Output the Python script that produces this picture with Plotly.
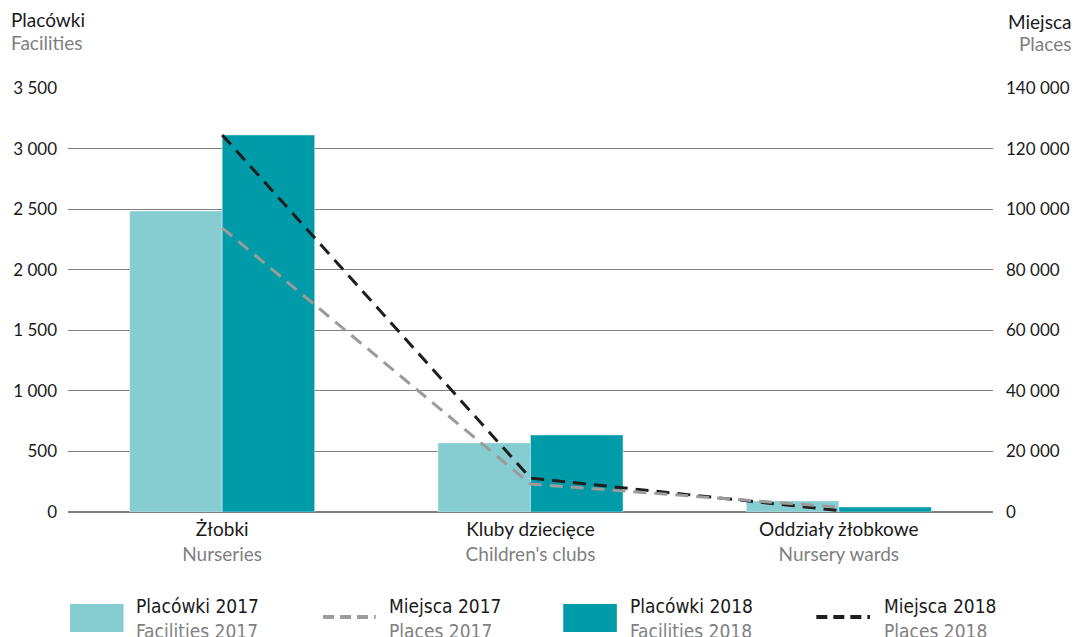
import plotly.graph_objects as go

categories = ["Żłobki<br><span style='color:#808080'>Nurseries</span>",
              "Kluby dziecięce<br><span style='color:#808080'>Children's clubs</span>",
              "Oddziały żłobkowe<br><span style='color:#808080'>Nursery wards</span>"]
facilities_2017 = [2485, 570, 91]
facilities_2018 = [3112, 636, 41]
places_2017 = [93800, 9250, 1600]
places_2018 = [124500, 11200, 500]
left_ticks = [0, 500, 1000, 1500, 2000, 2500, 3000, 3500]
right_ticks = [0, 20000, 40000, 60000, 80000, 100000, 120000, 140000]

C17 = "#86CDD2"
C18 = "#009BA8"
L17 = "#9B9B9B"
L18 = "#1E1E1E"
GRAY = "#7F7F7F"
FONT = "Lato"

W, H = 1082, 637
L, R, T, B = 68, 82, 88, 125

def px(x):
    return (x - L) / (W - L - R)

def py(y):
    return (H - B - y) / (H - T - B)

fig = go.Figure()
fig.add_trace(go.Bar(x=categories, y=facilities_2017, marker_color=C17, name="Placówki 2017", showlegend=False))
fig.add_trace(go.Bar(x=categories, y=facilities_2018, marker_color=C18, name="Placówki 2018", showlegend=False))
fig.add_trace(go.Scatter(x=categories, y=places_2018, yaxis="y2", mode="lines",
                         line=dict(color=L18, width=3, dash="13px,8px"), showlegend=False))
fig.add_trace(go.Scatter(x=categories, y=places_2017, yaxis="y2", mode="lines",
                         line=dict(color=L17, width=3, dash="13px,8px"), showlegend=False))

fig.update_layout(
    width=W, height=H,
    margin=dict(l=L, r=R, t=T, b=B),
    paper_bgcolor="white", plot_bgcolor="white",
    barmode="group", bargap=0.4, bargroupgap=0,
    separators=", ",
    font=dict(family=FONT, size=17, color="#1A1A1A"),
    showlegend=False,
    xaxis=dict(showgrid=False, ticks="", tickfont=dict(size=19), showline=False, ticklabelstandoff=4),
    yaxis=dict(range=[0, 3500], tickvals=left_ticks, tickformat=",d", showgrid=True,
               gridcolor=GRAY, gridwidth=1, zeroline=True, zerolinecolor=GRAY, zerolinewidth=1.5,
               ticklabelstandoff=10, fixedrange=True),
    yaxis2=dict(range=[0, 140000], tickvals=right_ticks, tickformat=",d", overlaying="y",
                side="right", showgrid=False, zeroline=False, ticklabelstandoff=12),
)

annotations = [
    dict(text="Placówki", x=px(9), y=py(19), xanchor="left", yanchor="middle", font=dict(size=19, color="#1A1A1A")),
    dict(text="Facilities", x=px(9), y=py(42), xanchor="left", yanchor="middle", font=dict(size=19, color=GRAY)),
    dict(text="Miejsca", x=px(1081), y=py(22), xanchor="right", yanchor="middle", font=dict(size=19, color="#1A1A1A")),
    dict(text="Places", x=px(1081), y=py(44), xanchor="right", yanchor="middle", font=dict(size=19, color=GRAY)),
]
shapes = []
legend_items = [
    ("bar", C17, 70, 124, 135, "Placówki 2017", "Facilities 2017"),
    ("line", L17, 325, 378, 389, "Miejsca 2017", "Places 2017"),
    ("bar", C18, 567, 621, 632, "Placówki 2018", "Facilities 2018"),
    ("line", L18, 822, 876, 888, "Miejsca 2018", "Places 2018"),
]
LFONT = "Liberation Sans Narrow, DejaVu Sans Condensed"
for kind, col, x0, x1, tx, t1, t2 in legend_items:
    if kind == "bar":
        shapes.append(dict(type="rect", xref="paper", yref="paper", x0=px(x0), x1=px(x1),
                           y0=py(632), y1=py(604), fillcolor=col, line=dict(width=0)))
    else:
        shapes.append(dict(type="line", xref="paper", yref="paper", x0=px(x0), x1=px(x1),
                           y0=py(617), y1=py(617), line=dict(color=col, width=4, dash="11px,6px")))
    annotations.append(dict(text=t1, x=px(tx), y=py(606), xanchor="left", yanchor="middle",
                            font=dict(family=LFONT, size=19, color="#1A1A1A")))
    annotations.append(dict(text=t2, x=px(tx), y=py(631), xanchor="left", yanchor="middle",
                            font=dict(family=LFONT, size=19, color=GRAY)))
for a in annotations:
    a.update(xref="paper", yref="paper", showarrow=False)
fig.update_layout(annotations=annotations, shapes=shapes)

fig.write_html("out.html", config={"displayModeBar": False},
               post_script="document.body.style.margin='0';document.body.style.overflow='hidden';")
